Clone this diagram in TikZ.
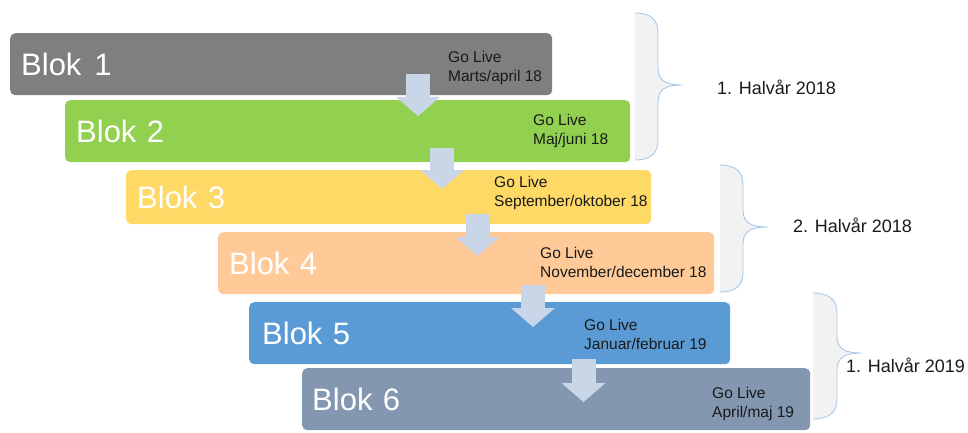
\documentclass[tikz,border=0pt]{standalone}
\usepackage{fontspec}
\setmainfont{Liberation Sans}
\usetikzlibrary{calc,arrows.meta}

\definecolor{blokgray}{HTML}{7F7F7F}
\definecolor{blokgreen}{HTML}{92D050}
\definecolor{blokyellow}{HTML}{FFD966}
\definecolor{blokpeach}{HTML}{FFCA98}
\definecolor{blokblue}{HTML}{5B9BD5}
\definecolor{bloksteel}{HTML}{8497B0}
\definecolor{flowblue}{HTML}{C9D6E7}
\definecolor{braceline}{HTML}{A9C8EA}
\definecolor{bracefill}{HTML}{F2F2F2}
\definecolor{ink}{HTML}{1A1A1A}

% curly brace: left x, top y, stem x, tip x, tip y, bottom y
\newcommand\periodbrace[6]{%
  \fill[bracefill] (#1,#2) .. controls (#1+15,#2) and (#3,#2+6) .. (#3,#2+20)
    -- (#3,#5-17) .. controls (#3,#5-4) and (#3+8,#5) .. (#4,#5)
    .. controls (#3+8,#5) and (#3,#5+4) .. (#3,#5+17)
    -- (#3,#6-20) .. controls (#3,#6-6) and (#1+15,#6) .. (#1,#6) -- cycle;
  \draw[braceline, line width=0.9pt] (#1,#2) .. controls (#1+15,#2) and (#3,#2+6) .. (#3,#2+20)
    -- (#3,#5-17) .. controls (#3,#5-4) and (#3+8,#5) .. (#4,#5)
    .. controls (#3+8,#5) and (#3,#5+4) .. (#3,#5+17)
    -- (#3,#6-20) .. controls (#3,#6-6) and (#1+15,#6) .. (#1,#6);
}

\begin{document}
\begin{tikzpicture}[x=1pt, y=-1pt,
  blok/.style={draw=none, rounded corners=5pt, anchor=north west,
    inner ysep=0pt, inner xsep=11pt, minimum height=62, align=left,
    text=white, font=\fontsize{31}{37}\selectfont},
  golive/.style={anchor=north west, inner sep=0pt, align=left, text=ink,
    font=\fontsize{15.5}{18.5}\selectfont},
  period/.style={anchor=base west, inner sep=0pt, text=ink,
    font=\fontsize{18}{22}\selectfont},
  flow/.style={draw=flowblue, line width=24pt,
    -{Triangle[length=19pt, width=44pt, line width=0pt, fill=flowblue]}}]

\useasboundingbox (0,0) rectangle (968,433);

% half-year braces
\periodbrace{635}{13}{658}{683}{85}{160}
\periodbrace{720}{165}{743}{768}{227}{292}
\periodbrace{813}{293}{837}{862}{353}{419}

\node[period] (h1) at (717,95) {1. Halvår 2018};
\node[period] (h2) at (793,232) {2. Halvår 2018};
\node[period] (h3) at (846,372) {1. Halvår 2019};

% blocks
\node[blok, fill=blokgray,   text width=520] (b1) at (10,33)  {Blok\hspace{13pt}1};
\node[blok, fill=blokgreen,  text width=543] (b2) at (65,100) {Blok 2};
\node[blok, fill=blokyellow, text width=503, minimum height=54] (b3) at (126,170) {Blok 3};
\node[blok, fill=blokpeach,  text width=474] (b4) at (218,232) {Blok 4};
\node[blok, fill=blokblue,   text width=455, inner xsep=13pt] (b5) at (249,302) {Blok 5};
\node[blok, fill=bloksteel,  text width=488, inner xsep=10pt] (b6) at (302,368) {Blok 6};

% go-live dates
\node[golive] (g1) at (448,51.5)  {Go Live\\Marts/april 18};
\node[golive] (g2) at (533,114.5) {Go Live\\Maj/juni 18};
\node[golive] (g3) at (494,176.5) {Go Live\\September/oktober 18};
\node[golive] (g4) at (540,247.5) {Go Live\\November/december 18};
\node[golive] (g5) at (584,319.5) {Go Live\\Januar/februar 19};
\node[golive] (g6) at (712,387.5) {Go Live\\April/maj 19};

% hand-over arrows between consecutive blocks
\draw[flow] ($(b1.south -| 418,0)+(0,-21)$) -- ($(b2.north -| 418,0)+(0,16)$);
\draw[flow] ($(b2.south -| 442,0)+(0,-14)$) -- ($(b3.north -| 442,0)+(0,19)$);
\draw[flow] ($(b3.south -| 477.5,0)+(0,-10)$) -- ($(b4.north -| 477.5,0)+(0,24)$);
\draw[flow] ($(b4.south -| 533,0)+(0,-9)$) -- ($(b5.north -| 533,0)+(0,25)$);
\draw[flow] ($(b5.south -| 583.5,0)+(0,-5)$) -- ($(b6.north -| 583.5,0)+(0,34)$);
\end{tikzpicture}
\end{document}
